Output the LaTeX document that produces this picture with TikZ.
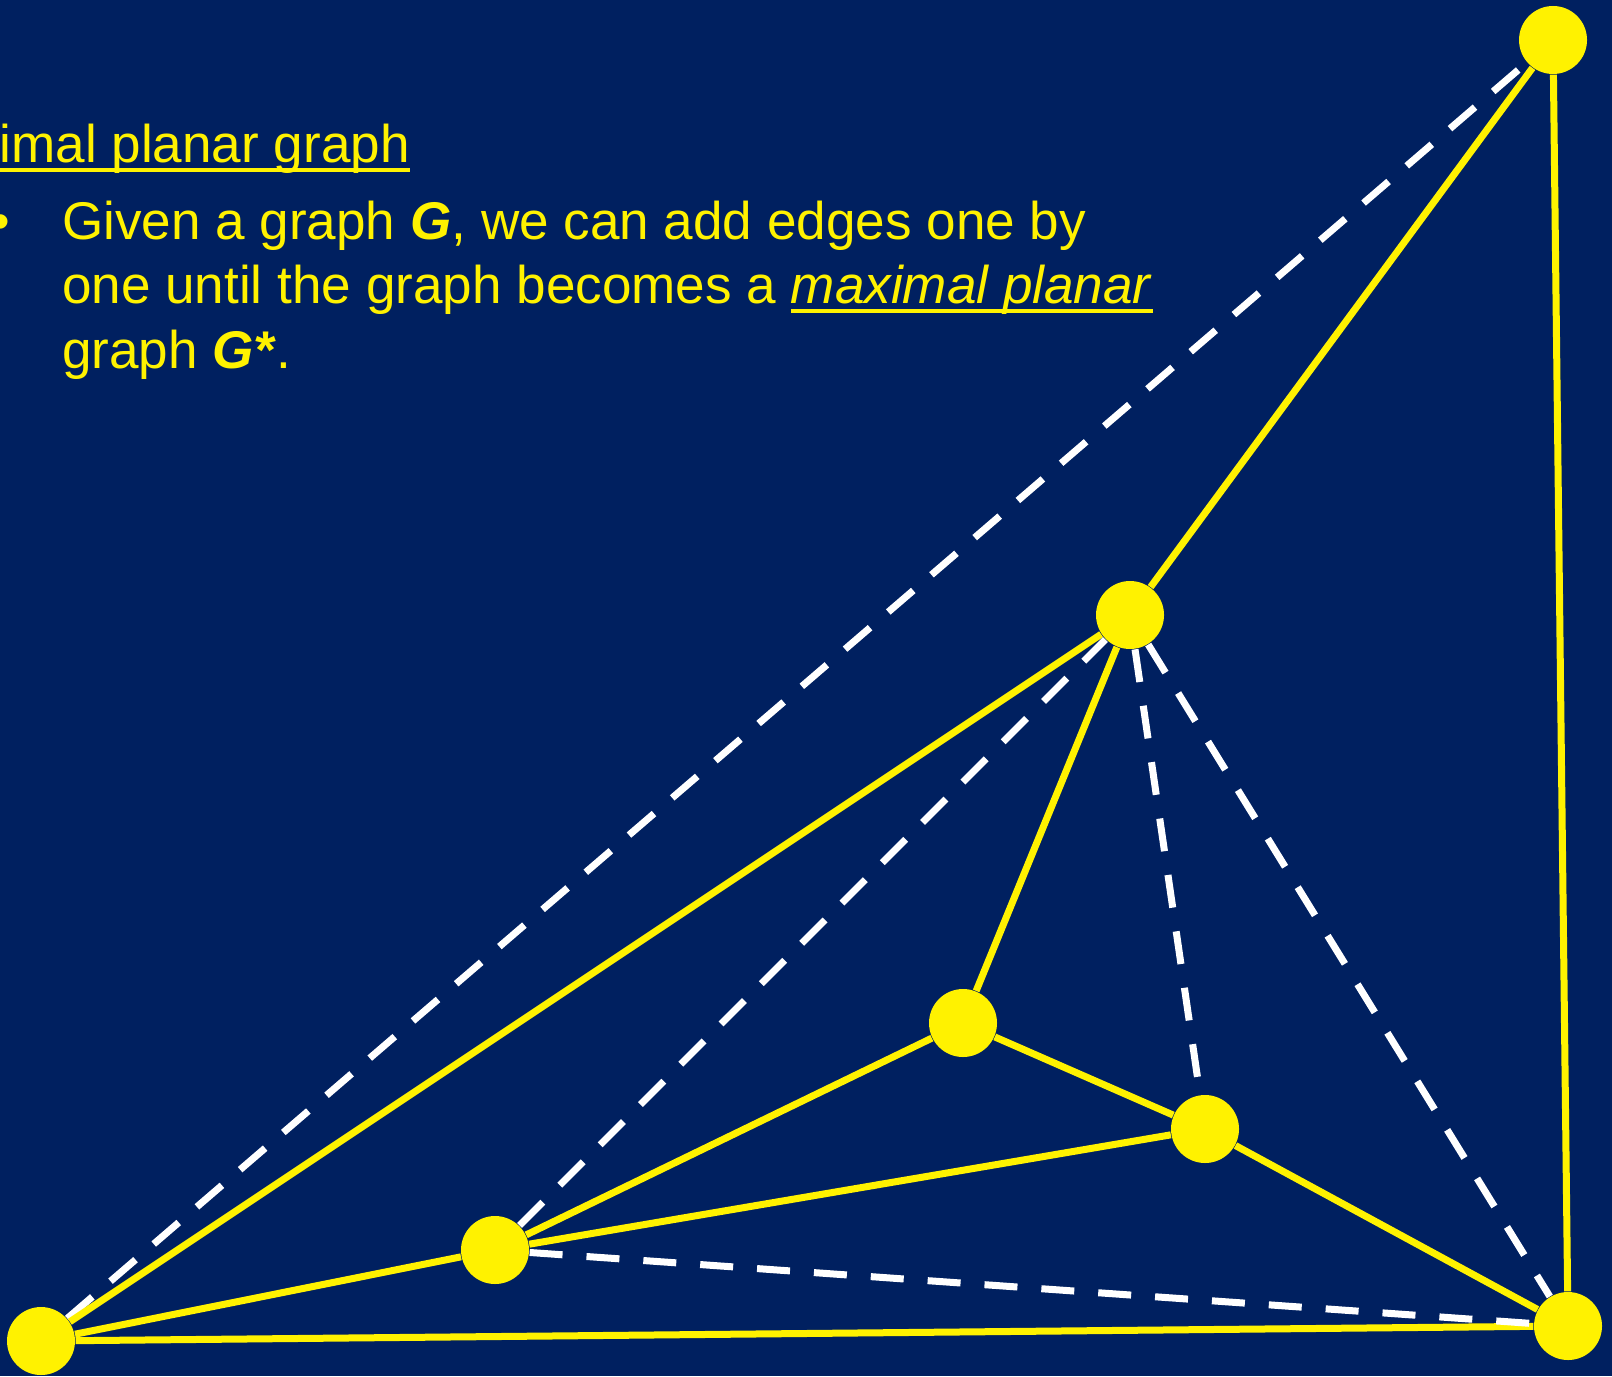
\documentclass[tikz,border=0pt]{standalone}
\usepackage{fontspec}
\setmainfont{Liberation Sans}
\definecolor{fondo}{RGB}{0,32,96}
\newcommand{\pptul}[1]{\setbox0\hbox{#1}\rlap{\rule[-0.088cm]{\wd0}{0.035cm}}\box0}

\begin{document}
\begin{tikzpicture}[x=1cm,y=1cm,line cap=butt,line join=round,
    vertice/.style={circle,fill=yellow,inner sep=0pt,minimum size=0.68cm},
    arista/.style={yellow,line width=0.07cm},
    agregada/.style={white,line width=0.07cm,dash pattern=on 0.33cm off 0.24cm},
    texto/.style={text=yellow,inner sep=0pt,anchor=base west,font=\fontsize{15.1pt}{18.2pt}\selectfont}]
        % Fondo
        \fill[fondo] (0,0) rectangle (16.12,13.76);
        \useasboundingbox (0,0) rectangle (16.12,13.76);

        % Texto
        \node[texto] (titulo) at (-0.01,12.13) {\pptul{imal planar graph}};
        \node[texto,anchor=base] (vineta) at (0.01,11.36) {•};
        \node[texto] (linea1) at (0.615,11.36) {Given a graph \textbf{\textit{G}}, we can add edges one by};
        \node[texto] (linea2) at (0.615,10.72) {one until the graph becomes a \pptul{\textit{maximal planar}}};
        \node[texto] (linea3) at (0.615,10.08) {graph \textbf{\textit{G*}}.};

        % Vértices
        \node[vertice] (A) at (15.53,13.36) {};
        \node[vertice] (B) at (11.30,7.61) {};
        \node[vertice] (C) at (9.63,3.53) {};
        \node[vertice] (D) at (12.05,2.47) {};
        \node[vertice] (E) at (4.95,1.26) {};
        \node[vertice] (F) at (0.41,0.35) {};
        \node[vertice] (G) at (15.68,0.50) {};

        % Arista agregada (debajo)
        \draw[agregada] (F) -- (A);

        % Aristas del grafo G
        \draw[arista] (A) -- (B);
        \draw[arista] (A) -- (G);
        \draw[arista] (B) -- (F);
        \draw[arista] (B) -- (C);
        \draw[arista] (C) -- (E);
        \draw[arista] (C) -- (D);
        \draw[arista] (D) -- (E);
        \draw[arista] (D) -- (G);
        \draw[arista] (E) -- (F);
        \draw[arista] (F) -- (G);

        % Aristas agregadas
        \draw[agregada] (E) -- (B);
        \draw[agregada] (B) -- (D);
        \draw[agregada] (B) -- (G);
        \draw[agregada] (E) -- (G);
    \end{tikzpicture}
\end{document}
